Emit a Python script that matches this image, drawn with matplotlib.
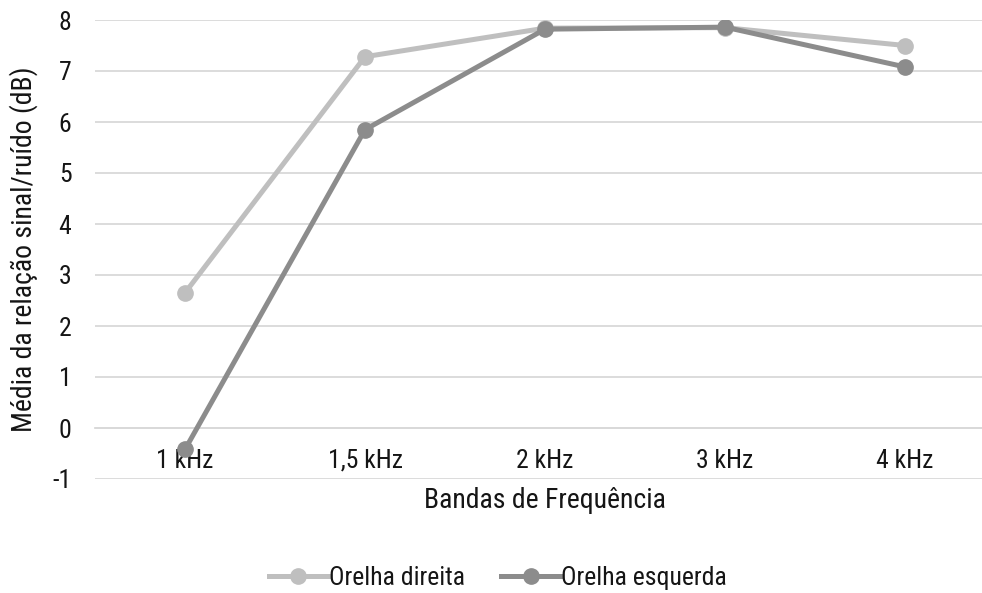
import matplotlib
matplotlib.use("Agg")
import matplotlib.pyplot as plt

plt.rcParams['font.family'] = ['Roboto Condensed', 'DejaVu Sans']
plt.rcParams['axes.unicode_minus'] = False

categories = ["1 kHz", "1,5 kHz", "2 kHz", "3 kHz", "4 kHz"]
direita = [2.65, 7.28, 7.84, 7.85, 7.50]
esquerda = [-0.42, 5.85, 7.82, 7.86, 7.08]

fig = plt.figure(figsize=(9.82, 5.93), dpi=100)
ax = fig.add_axes([95 / 982, 114 / 593, 887 / 982, 459 / 593])

x = range(len(categories))
ax.plot(x, direita, color="#BFBFBF", lw=3.6, marker="o", ms=11, label="Orelha direita", zorder=3)
ax.plot(x, esquerda, color="#8C8C8C", lw=3.6, marker="o", ms=11, label="Orelha esquerda", zorder=4)

ax.set_ylim(-1, 8)
ax.set_yticks(range(-1, 9))
ax.set_xlim(-0.5, 4.5 - 13 / 180)
ax.grid(axis="y", color="#D9D9D9", lw=1.3)
ax.set_axisbelow(True)
for s in ["top", "right", "left"]:
    ax.spines[s].set_visible(False)
ax.spines["bottom"].set_position(("data", 0))
ax.spines["bottom"].set_color("#D9D9D9")
ax.spines["bottom"].set_linewidth(1.3)

ax.set_xticks(list(x))
ax.set_xticklabels(categories)
ax.tick_params(axis="x", length=0, pad=15, labelsize=18.5, labelcolor="#151515")
ax.tick_params(axis="y", length=0, pad=17, labelsize=18.5, labelcolor="#151515")

ax.set_ylabel("Média da relação sinal/ruído (dB)", fontsize=20, color="#151515", labelpad=10)
fig.text(545 / 982, 1 - 500 / 593, "Bandas de Frequência", ha="center", va="center",
         fontsize=20, color="#151515")

fig.legend(loc="center", bbox_to_anchor=(498 / 982, 1 - 578 / 593), ncol=2, frameon=False,
           fontsize=18.5, handlelength=2.3, columnspacing=1.4, handletextpad=0.05,
           labelcolor="#151515")

fig.savefig("out.png", dpi=100)
